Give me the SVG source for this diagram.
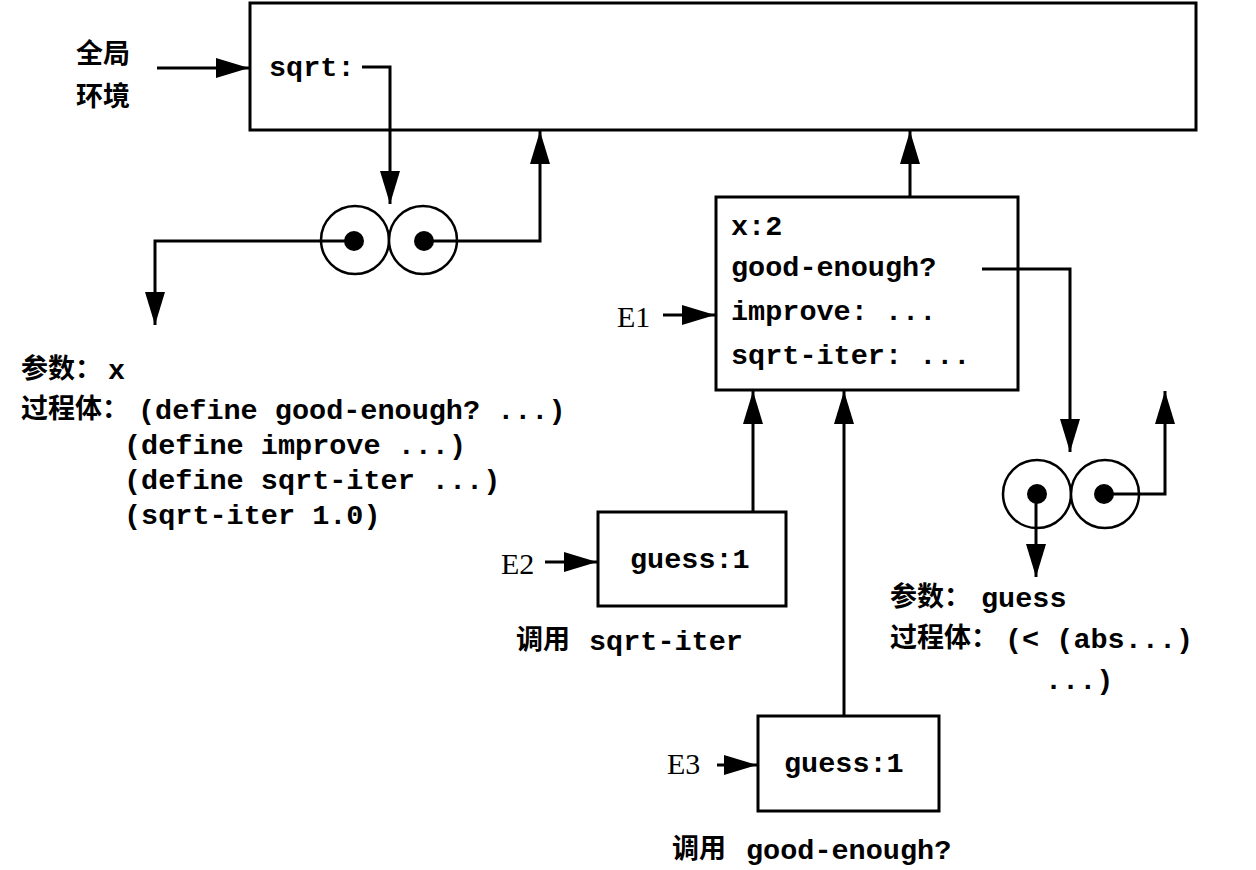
<svg xmlns="http://www.w3.org/2000/svg" width="1256" height="870" viewBox="0 0 1256 870">
<defs>
<marker id="arr" markerUnits="userSpaceOnUse" markerWidth="36" markerHeight="22" refX="33" refY="10" orient="auto">
<path d="M0,0 L33,10 L0,20 Z" fill="#000"/>
</marker>
<style>
.box{fill:#fff;stroke:#000;stroke-width:3}
.ln{fill:none;stroke:#000;stroke-width:3}
.cir{fill:#fff;stroke:#000;stroke-width:2.5}
.dot{fill:#000}
.mono{font-family:"Liberation Mono","Noto Sans CJK SC",monospace;font-weight:bold;font-size:28.5px;fill:#000}
.cjk{font-family:"Noto Sans CJK SC",sans-serif;font-weight:bold;font-size:27px;fill:#000}
.ser{font-family:"Liberation Serif",serif;font-size:30px;fill:#000}
</style>
</defs>
<rect width="1256" height="870" fill="#fff"/>

<g id="global-env">
<rect class="box" x="250" y="3" width="946" height="127"/>
<text class="cjk" x="76" y="63">全局</text>
<text class="cjk" x="76" y="106">环境</text>
<text class="mono" x="269" y="76">sqrt:</text>
</g>

<g id="sqrt-proc">
<circle class="cir" cx="355" cy="240" r="34"/>
<circle class="cir" cx="423" cy="240" r="34"/>
<circle class="dot" cx="354" cy="241" r="10"/>
<circle class="dot" cx="424" cy="241" r="10"/>
</g>

<g id="sqrt-text">
<text class="cjk" x="21" y="378">参数：</text>
<text class="mono" x="108" y="379">x</text>
<text class="cjk" x="21" y="418">过程体：</text>
<text class="mono" x="138" y="419">(define good-enough? ...)</text>
<text class="mono" x="124" y="454">(define improve ...)</text>
<text class="mono" x="124" y="489">(define sqrt-iter ...)</text>
<text class="mono" x="124" y="524">(sqrt-iter 1.0)</text>
</g>

<g id="E1">
<rect class="box" x="716" y="197" width="302" height="193"/>
<text class="mono" x="731" y="235">x:2</text>
<text class="mono" x="731" y="276">good-enough?</text>
<text class="mono" x="731" y="320">improve: ...</text>
<text class="mono" x="731" y="364">sqrt-iter: ...</text>
<text class="ser" x="617" y="327">E1</text>
</g>

<g id="ge-proc">
<circle class="cir" cx="1037" cy="494" r="34"/>
<circle class="cir" cx="1105" cy="494" r="34"/>
<circle class="dot" cx="1037" cy="494" r="10"/>
<circle class="dot" cx="1104" cy="494" r="10"/>
</g>

<g id="ge-text">
<text class="cjk" x="890" y="606">参数：</text>
<text class="mono" x="981" y="607">guess</text>
<text class="cjk" x="890" y="647">过程体：</text>
<text class="mono" x="1005" y="648">(&lt; (abs...)</text>
<text class="mono" x="1045" y="689">...)</text>
</g>

<g id="E2">
<rect class="box" x="598" y="512" width="188" height="94"/>
<text class="mono" x="630" y="568">guess:1</text>
<text class="ser" x="501" y="574">E2</text>
<text class="cjk" x="516" y="649">调用</text>
<text class="mono" x="589" y="650">sqrt-iter</text>
</g>

<g id="E3">
<rect class="box" x="758" y="716" width="181" height="95"/>
<text class="mono" x="784" y="772">guess:1</text>
<text class="ser" x="667" y="774">E3</text>
<text class="cjk" x="672" y="858">调用</text>
<text class="mono" x="746" y="859">good-enough?</text>
</g>

<g id="connectors">
<path class="ln" d="M157,68 H249" marker-end="url(#arr)"/>
<path class="ln" d="M362,67 H390 V204" marker-end="url(#arr)"/>
<path class="ln" d="M354,241 H155 V325" marker-end="url(#arr)"/>
<path class="ln" d="M424,241 H540 V131" marker-end="url(#arr)"/>
<path class="ln" d="M910,197 V131" marker-end="url(#arr)"/>
<path class="ln" d="M663,315 H715" marker-end="url(#arr)"/>
<path class="ln" d="M982,269 H1070 V452" marker-end="url(#arr)"/>
<path class="ln" d="M1104,494 H1165 V391" marker-end="url(#arr)"/>
<path class="ln" d="M1036,494 V577" marker-end="url(#arr)"/>
<path class="ln" d="M753,512 V391" marker-end="url(#arr)"/>
<path class="ln" d="M844,716 V391" marker-end="url(#arr)"/>
<path class="ln" d="M545,562 H597" marker-end="url(#arr)"/>
<path class="ln" d="M717,765 H757" marker-end="url(#arr)"/>
</g>
</svg>
